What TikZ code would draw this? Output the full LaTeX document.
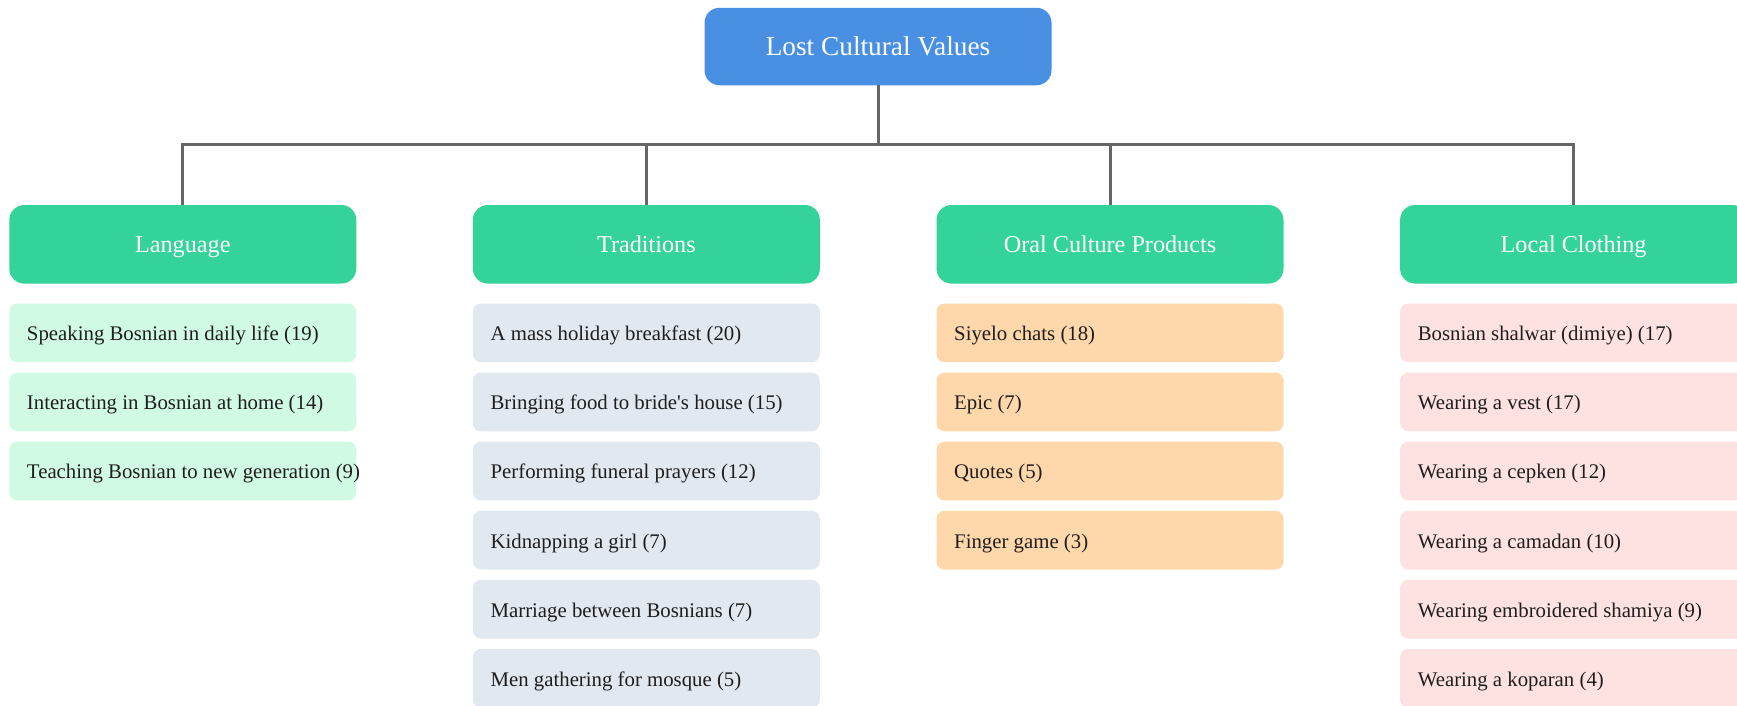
\documentclass[tikz,border=0pt]{standalone}
\usepackage{fontspec}
\setmainfont{Liberation Serif}[Ligatures=TeXOff]

\definecolor{rootblue}{HTML}{4A90E2}
\definecolor{headgreen}{HTML}{34D399}
\definecolor{langleaf}{HTML}{D1FAE5}
\definecolor{tradleaf}{HTML}{E2E8F0}
\definecolor{oralleaf}{HTML}{FED7AA}
\definecolor{clothleaf}{HTML}{FEE2E2}
\definecolor{connline}{HTML}{666666}
\definecolor{leafink}{HTML}{1E1E1E}

% leaf labels sit at a fixed left inset and may run past the box edge
\newcommand{\lftext}[1]{\makebox[311.6pt][l]{#1}}

\begin{document}
\begin{tikzpicture}[x=1pt,y=-1pt,
  rootbox/.style={fill=rootblue, text=white, rounded corners=15pt,
    minimum width=347pt, minimum height=77.5pt, inner sep=0pt,
    text height=24pt, text depth=6pt,
    font=\fontsize{27.3}{32}\selectfont},
  headbox/.style={fill=headgreen, text=white, rounded corners=15pt,
    minimum width=347pt, minimum height=78.6pt, inner sep=0pt,
    text height=22.2pt, text depth=5.2pt,
    font=\fontsize{24.2}{29}\selectfont},
  leafbox/.style={rounded corners=8pt, text=leafink,
    minimum width=347pt, minimum height=58.7pt, inner xsep=17.7pt, inner ysep=0pt,
    text height=20.3pt, text depth=4.5pt,
    font=\fontsize{20.8}{25}\selectfont},
  conn/.style={draw=connline, line width=3pt}
]
\useasboundingbox (0,0) rectangle (1737,705);

% root and category headers
\node[rootbox] (root) at (878,46.5) {Lost Cultural Values};
\node[headbox] (lang)  at (182.8,244.3) {Language};
\node[headbox] (trad)  at (646.4,244.3) {Traditions};
\node[headbox] (oral)  at (1110,244.3) {Oral Culture Products};
\node[headbox] (cloth) at (1573.6,244.3) {Local Clothing};

% tree connectors through a shared horizontal bus
\coordinate (bus) at (0,144);
\foreach \h in {lang,trad,oral,cloth}
  \draw[conn] (root.south) -- (root.south |- bus) -| (\h.north);

% leaves of each category
\foreach \t [count=\i] in {
    Speaking Bosnian in daily life (19),
    Interacting in Bosnian at home (14),
    Teaching Bosnian to new generation (9)}
  \node[leafbox, fill=langleaf] (lang\i) at (182.8,{332.85+69.1*(\i-1)}) {\lftext{\t}};

\foreach \t [count=\i] in {
    A mass holiday breakfast (20),
    Bringing food to bride's house (15),
    Performing funeral prayers (12),
    Kidnapping a girl (7),
    Marriage between Bosnians (7),
    Men gathering for mosque (5)}
  \node[leafbox, fill=tradleaf] (trad\i) at (646.4,{332.85+69.1*(\i-1)}) {\lftext{\t}};

\foreach \t [count=\i] in {
    Siyelo chats (18),
    Epic (7),
    Quotes (5),
    Finger game (3)}
  \node[leafbox, fill=oralleaf] (oral\i) at (1110,{332.85+69.1*(\i-1)}) {\lftext{\t}};

\foreach \t [count=\i] in {
    Bosnian shalwar (dimiye) (17),
    Wearing a vest (17),
    Wearing a cepken (12),
    Wearing a camadan (10),
    Wearing embroidered shamiya (9),
    Wearing a koparan (4)}
  \node[leafbox, fill=clothleaf] (cloth\i) at (1573.6,{332.85+69.1*(\i-1)}) {\lftext{\t}};
\end{tikzpicture}
\end{document}
